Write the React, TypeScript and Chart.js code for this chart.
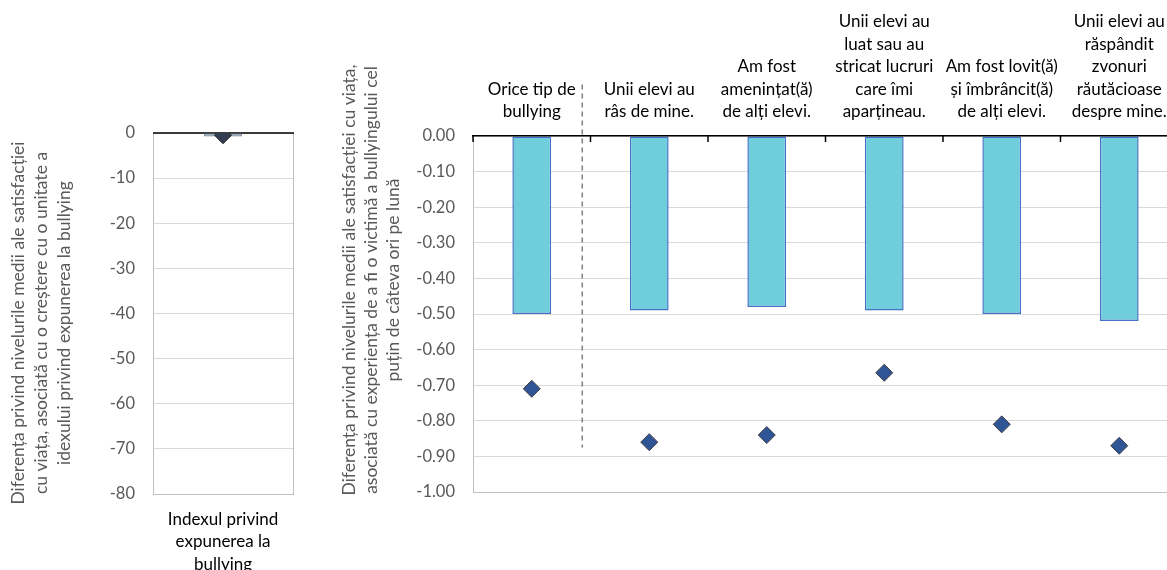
import React, { useEffect, useRef } from "react";
import { Chart, registerables } from "chart.js";

Chart.register(...registerables);

// ---------- data ----------
const leftCategories: string[][] = [["Indexul privind", "expunerea la", "bullying"]];
const leftBarValues: number[] = [-0.75];
const leftPointValues: number[] = [-0.5];
const leftTicks: number[] = [0, -10, -20, -30, -40, -50, -60, -70, -80];
const leftTickLabels: string[] = ["0", "-10", "-20", "-30", "-40", "-50", "-60", "-70", "-80"];
const leftAxisTitle: string[] = [
  "Diferența privind nivelurile medii ale satisfacției",
  "cu viața, asociată cu o creștere cu o unitate a",
  "idexului privind expunerea la bullying",
];

const rightCategories: string[][] = [
  ["Orice tip de", "bullying"],
  ["Unii elevi au", "râs de mine."],
  ["Am fost", "amenințat(ă)", "de alți elevi."],
  ["Unii elevi au", "luat sau au", "stricat lucruri", "care îmi", "aparțineau."],
  ["Am fost lovit(ă)", "și îmbrâncit(ă)", "de alți elevi."],
  ["Unii elevi au", "răspândit", "zvonuri", "răutăcioase", "despre mine."],
];
const rightBarValues: number[] = [-0.5, -0.49, -0.48, -0.49, -0.5, -0.52];
const rightPointValues: number[] = [-0.71, -0.86, -0.84, -0.665, -0.81, -0.87];
const rightTicks: number[] = [0, -0.1, -0.2, -0.3, -0.4, -0.5, -0.6, -0.7, -0.8, -0.9, -1.0];
const rightTickLabels: string[] = [
  "0.00", "-0.10", "-0.20", "-0.30", "-0.40", "-0.50", "-0.60", "-0.70", "-0.80", "-0.90", "-1.00",
];
const rightAxisTitle: string[] = [
  "Diferența privind nivelurile medii ale satisfacției cu viața,",
  "asociată cu experiența de a fi o victimă a bullyingului cel",
  "puțin de câteva ori pe lună",
];
// divider (category position and value extent)
const dividerPosition = 0.43;
const dividerTop = 0.145;
const dividerBottom = -0.875;

// ---------- style ----------
const FONT = "Lato, 'Open Sans', sans-serif";
const GREY_TEXT = "#595959";
const GRID = "#d9d9d9";
const FRAME = "#bfbfbf";

function axisTitlePlugin(lines: string[], x0: number, cy: number, lh: number, size: number) {
  return {
    id: "axisTitle",
    afterDraw(chart: any) {
      const ctx = chart.ctx;
      ctx.save();
      ctx.fillStyle = GREY_TEXT;
      ctx.font = `${size}px ${FONT}`;
      ctx.textAlign = "center";
      ctx.textBaseline = "middle";
      lines.forEach((t, i) => {
        ctx.save();
        ctx.translate(x0 + i * lh, cy);
        ctx.rotate(-Math.PI / 2);
        ctx.fillText(t, 0, 0);
        ctx.restore();
      });
      ctx.restore();
    },
  };
}

const leftFramePlugin = {
  id: "leftFrame",
  beforeDatasetsDraw(chart: any) {
    const { ctx, chartArea: a, scales } = chart;
    ctx.save();
    ctx.strokeStyle = FRAME;
    ctx.lineWidth = 1;
    ctx.beginPath();
    ctx.moveTo(a.right + 0.5, a.top);
    ctx.lineTo(a.right + 0.5, a.bottom);
    ctx.stroke();
    const y0 = scales.y.getPixelForValue(0);
    ctx.strokeStyle = "#000";
    ctx.lineWidth = 1.5;
    ctx.beginPath();
    ctx.moveTo(a.left, y0);
    ctx.lineTo(a.right + 1, y0);
    ctx.stroke();
    ctx.restore();
  },
};

const rightDecorPlugin = {
  id: "rightDecor",
  afterDatasetsDraw(chart: any) {
    const { ctx, chartArea: a, scales } = chart;
    const x = scales.x;
    const y = scales.y;
    ctx.save();
    ctx.strokeStyle = "#000";
    ctx.lineWidth = 1.5;
    for (let i = 0; i <= rightCategories.length; i++) {
      const px = x.getPixelForValue(i - 0.5);
      ctx.beginPath();
      ctx.moveTo(px, a.top);
      ctx.lineTo(px, a.top + 6);
      ctx.stroke();
    }
    ctx.strokeStyle = "#808080";
    ctx.lineWidth = 1.5;
    ctx.setLineDash([5, 4]);
    const dx = x.getPixelForValue(dividerPosition);
    ctx.beginPath();
    ctx.moveTo(dx, y.getPixelForValue(dividerTop));
    ctx.lineTo(dx, y.getPixelForValue(dividerBottom));
    ctx.stroke();
    ctx.restore();
  },
};

export default function App() {
  const leftRef = useRef<HTMLCanvasElement>(null);
  const rightRef = useRef<HTMLCanvasElement>(null);

  useEffect(() => {
    Chart.defaults.font.family = FONT;

    const left = new Chart(leftRef.current!, {
      type: "bar",
      data: {
        labels: leftCategories as any,
        datasets: [
          {
            type: "line",
            data: leftPointValues,
            showLine: false,
            pointStyle: "rectRot",
            pointRadius: 8.5,
            pointBackgroundColor: "#333F50",
            pointBorderColor: "#262626",
            pointBorderWidth: 1,
            order: 0,
          } as any,
          {
            type: "bar",
            data: leftBarValues,
            backgroundColor: "#8496A8",
            borderColor: "#6b7b8c",
            borderWidth: 1,
            borderSkipped: false,
            barPercentage: 0.27,
            categoryPercentage: 1,
            order: 1,
          } as any,
        ],
      },
      options: {
        responsive: false,
        devicePixelRatio: 1,
        animation: false,
        layout: { padding: { left: 0, right: 37, top: 133, bottom: 0 } },
        plugins: { legend: { display: false }, tooltip: { enabled: false } },
        scales: {
          x: {
            position: "bottom",
            grid: { display: false, drawTicks: false },
            border: { display: true, color: FRAME, width: 1 },
            ticks: {
              color: "#000",
              font: { size: 17, lineHeight: 22.5 / 17 },
              padding: 14,
              maxRotation: 0,
              autoSkip: false,
            },
            afterFit: (s: any) => {
              s.height = 76;
            },
          },
          y: {
            min: -80,
            max: 0,
            afterBuildTicks: (s: any) => {
              s.ticks = leftTicks.map((v) => ({ value: v }));
            },
            grid: {
              color: (c: any) => (c.tick && c.tick.value === -80 ? FRAME : GRID),
              lineWidth: 1,
              drawTicks: false,
            },
            border: { display: true, color: FRAME, width: 1 },
            ticks: {
              color: GREY_TEXT,
              font: { size: 16.5 },
              padding: 18,
              callback: (_v: any, i: number) => leftTickLabels[i],
            },
            afterFit: (s: any) => {
              s.width = 153;
            },
          },
        },
      } as any,
      plugins: [leftFramePlugin, axisTitlePlugin(leftAxisTitle, 18, 323, 23, 17.5)],
    });

    const right = new Chart(rightRef.current!, {
      type: "bar",
      data: {
        labels: rightCategories as any,
        datasets: [
          {
            type: "line",
            data: rightPointValues,
            showLine: false,
            pointStyle: "rectRot",
            pointRadius: 8.5,
            pointBackgroundColor: "#2F5597",
            pointBorderColor: "#404040",
            pointBorderWidth: 1,
            order: 0,
          } as any,
          {
            type: "bar",
            data: rightBarValues,
            backgroundColor: "#70CDDC",
            borderColor: "#4472C4",
            borderWidth: 1.5,
            borderSkipped: false,
            barPercentage: 0.33,
            categoryPercentage: 1,
            order: 1,
          } as any,
        ],
      },
      options: {
        responsive: false,
        devicePixelRatio: 1,
        animation: false,
        layout: { padding: { left: 0, right: 22, top: 0, bottom: 78 } },
        plugins: { legend: { display: false }, tooltip: { enabled: false } },
        scales: {
          x: {
            position: "top",
            grid: { display: false, drawTicks: false },
            border: { display: true, color: "#000", width: 1.5, z: 1 },
            ticks: {
              color: "#000",
              font: { size: 17, lineHeight: 22.5 / 17 },
              padding: 13,
              maxRotation: 0,
              autoSkip: false,
            },
            afterFit: (s: any) => {
              s.height = 136;
            },
          },
          y: {
            min: -1,
            max: 0,
            afterBuildTicks: (s: any) => {
              s.ticks = rightTicks.map((v) => ({ value: v }));
            },
            grid: {
              color: (c: any) => (c.tick && c.tick.value === -1 ? FRAME : GRID),
              lineWidth: 1,
              drawTicks: false,
            },
            border: { display: true, color: FRAME, width: 1 },
            ticks: {
              color: GREY_TEXT,
              font: { size: 16.5 },
              padding: 18,
              callback: (_v: any, i: number) => rightTickLabels[i],
            },
            afterFit: (s: any) => {
              s.width = 143;
            },
          },
        },
      } as any,
      plugins: [rightDecorPlugin, axisTitlePlugin(rightAxisTitle, 19, 280, 22, 17.5)],
    });

    return () => {
      left.destroy();
      right.destroy();
    };
  }, []);

  return (
    <div
      style={{
        position: "fixed",
        left: 0,
        top: 0,
        width: 1167,
        height: 570,
        overflow: "hidden",
        background: "#fff",
      }}
    >
      <canvas
        ref={leftRef}
        width={330}
        height={570}
        style={{ position: "absolute", left: 0, top: 0, width: 330, height: 570 }}
      />
      <canvas
        ref={rightRef}
        width={870}
        height={570}
        style={{ position: "absolute", left: 330, top: 0, width: 870, height: 570 }}
      />
    </div>
  );
}
